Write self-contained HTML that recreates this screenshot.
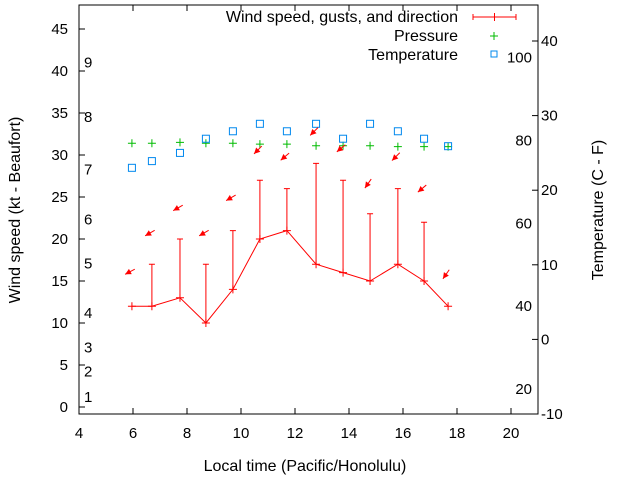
<!DOCTYPE html>
<html><head><meta charset="utf-8"><style>body{margin:0;background:#fff}svg{display:block;font-family:"Liberation Sans",sans-serif}</style></head>
<body>
<svg id="c" width="640" height="480"></svg>
<script>
const times=[5.96,6.70,7.74,8.70,9.70,10.70,11.70,12.78,13.78,14.78,15.81,16.78,17.67];
const speeds=[12,12,13,10,14,20,21,17,16,15,17,15,12];
const gusts=[null,17,20,17,21,27,26,29,27,23,26,22,null];
const pressure=[31.4,31.4,31.5,31.4,31.4,31.3,31.3,31.1,31.1,31.1,31.0,31.0,31.0];
const tempC=[23.0,23.9,25.0,26.9,27.9,28.9,27.9,28.9,26.9,28.9,27.9,26.9,25.9];
const arrowY=[16.1,20.7,23.7,20.7,24.9,30.6,29.8,32.8,30.8,26.6,29.8,26.0,15.8];
const arrowDir=[28,30,30,30,30,45,40,45,40,55,45,40,55];
const xTicks=[4,6,8,10,12,14,16,18,20];
const yTicks=[0,5,10,15,20,25,30,35,40,45];
const cTicks=[-10,0,10,20,30,40];
const fLabels=[20,40,60,80,100];
const beaufortNames=[1,2,3,4,5,6,7,8,9];
const beaufortPos=[1.2,4.2,7.1,11.2,17.1,22.3,28.3,34.5,41];
const L=79,R=538,T=5,B=414;
const X=v=>L+(v-4)*27, Y=v=>407-v*8.4, YC=c=>414-(c+10)*7.46, YF=f=>YC((f-32)*5/9);
const s=document.getElementById('c');const NS='http://www.w3.org/2000/svg';
function el(t,a,n,txt){const e=document.createElementNS(NS,t);for(const k in a)e.setAttribute(k,a[k]);


if(txt!=null)e.textContent=txt;s.appendChild(e);return e;}
el('rect',{x:L,y:T,width:R-L,height:B-T,fill:'none',stroke:'#000'},'plot-frame');
xTicks.forEach(v=>{el('line',{x1:X(v),x2:X(v),y1:B,y2:B-6,stroke:'#000'},'x-tick');el('line',{x1:X(v),x2:X(v),y1:T,y2:T+6,stroke:'#000'},'x-tick-top');
el('text',{x:X(v),y:B+24,'text-anchor':'middle','font-size':15},'x-tick-label',v);});
yTicks.forEach(v=>{el('line',{x1:L,x2:L+6,y1:Y(v),y2:Y(v),stroke:'#000'},'y-tick');
el('text',{x:L-11,y:Y(v)+5,'text-anchor':'end','font-size':15},'y-tick-label',v);});
cTicks.forEach(v=>{el('line',{x1:R,x2:R-6,y1:YC(v),y2:YC(v),stroke:'#000'},'y2-tick');
el('text',{x:R+3,y:YC(v)+5,'font-size':15},'y2-tick-label',v);});
fLabels.forEach(v=>el('text',{x:532,y:YF(v)+5,'text-anchor':'end','font-size':15},'fahrenheit-label',v));
beaufortNames.forEach((b,i)=>el('text',{x:84,y:Y(beaufortPos[i])+5,'font-size':15},'beaufort-label',b));
el('text',{x:305,y:471,'text-anchor':'middle','font-size':16},'x-axis-title','Local time (Pacific/Honolulu)');
el('text',{x:0,y:0,'text-anchor':'middle','font-size':16,transform:'translate(20,210) rotate(-90)'},'y-axis-title','Wind speed (kt - Beaufort)');
el('text',{x:0,y:0,'text-anchor':'middle','font-size':16,transform:'translate(603,210) rotate(-90)'},'y2-axis-title','Temperature (C - F)');
let pts=times.map((t,i)=>X(t)+','+Y(speeds[i])).join(' ');
el('polyline',{points:pts,fill:'none',stroke:'#f00'},'wind-speed-line');
times.forEach((t,i)=>{const x=X(t),y=Y(speeds[i]);
el('path',{d:`M${x-4} ${y}h8M${x} ${y-4}v8`,stroke:'#f00'},'wind-speed-point');
if(gusts[i]!=null){const g=Y(gusts[i]);el('path',{d:`M${x} ${y}V${g}M${x-3} ${g}h6`,stroke:'#f00'},'gust-bar');}
const px=x,py=Y(pressure[i]);el('path',{d:`M${px-4} ${py}h8M${px} ${py-4}v8`,stroke:'#0b0'},'pressure-point');
const ty=YC(tempC[i]);el('rect',{x:x-3.5,y:ty-3.5,width:7,height:7,fill:'none',stroke:'#08e'},'temperature-point');
const a=arrowDir[i]*Math.PI/180,ax=x-2,ay=Y(arrowY[i]),dx=-Math.cos(a)*11,dy=Math.sin(a)*11;
const x1=ax-dx/2,y1=ay-dy/2,x2=ax+dx/2,y2=ay+dy/2;const ux=dx/11,uy=dy/11;
el('line',{x1:x1,y1:y1,x2:x2,y2:y2,stroke:'#f00'},'wind-direction-arrow');
el('polygon',{points:`${x2},${y2} ${x2-ux*6-uy*3},${y2-uy*6+ux*3} ${x2-ux*6+uy*3},${y2-uy*6-ux*3}`,fill:'#f00'},'wind-direction-arrowhead');});
el('text',{x:458,y:22,'text-anchor':'end','font-size':16},'legend-wind-label','Wind speed, gusts, and direction');
el('path',{d:'M473 17h43M473 14v6M516 14v6M494.5 13v8',stroke:'#f00'},'legend-wind-sample');
el('text',{x:458,y:41,'text-anchor':'end','font-size':16},'legend-pressure-label','Pressure');
el('path',{d:'M490 36h8M494 32v8',stroke:'#0b0'},'legend-pressure-sample');
el('text',{x:458,y:60,'text-anchor':'end','font-size':16},'legend-temperature-label','Temperature');
el('rect',{x:491,y:51,width:6,height:6,fill:'none',stroke:'#08e'},'legend-temperature-sample');
</script>
</body></html>
